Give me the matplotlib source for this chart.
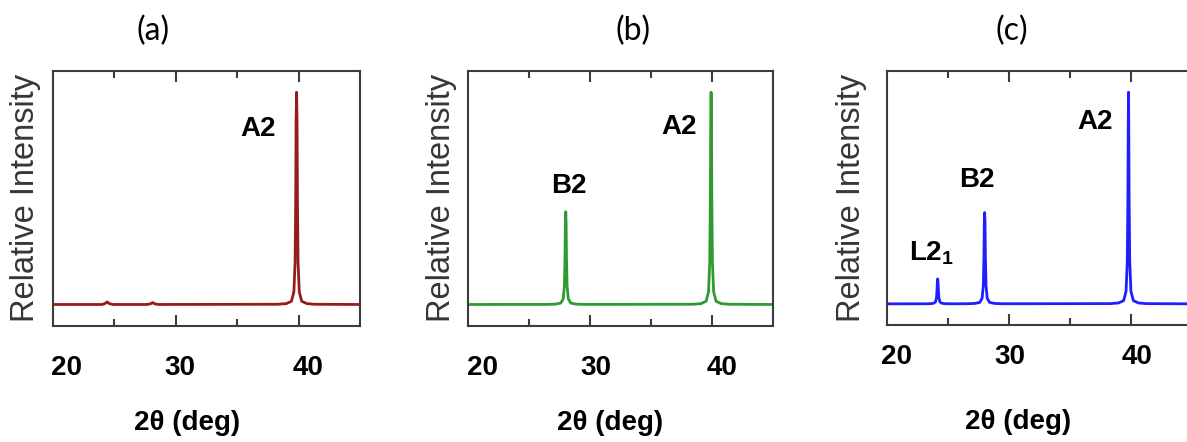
import matplotlib
matplotlib.use("Agg")
import matplotlib.pyplot as plt
from matplotlib.transforms import blended_transform_factory

plt.rcParams['mathtext.fontset'] = 'custom'
plt.rcParams['mathtext.bf'] = 'Liberation Sans:bold'
plt.rcParams['mathtext.rm'] = 'Liberation Sans'

# ---------------- data ----------------
panel_titles = ["(a)", "(b)", "(c)"]
x_label = "2θ (deg)"
y_label = "Relative Intensity"
tick_labels = ["20", "30", "40"]

# panel (a): A2 only (tiny bumps at ~24.4 and ~28.1)
two_theta_a = [20.0, 24.0, 24.25, 24.43, 24.6, 24.9,
               27.7, 27.95, 28.14, 28.3, 28.6,
               38.3, 39.0, 39.42, 39.62, 39.72, 39.77, 39.80, 39.84,
               39.88, 39.91, 39.96, 40.06, 40.26, 40.68, 41.3, 45.0]
intensity_a = [0.0, 0.0, 0.004, 0.012, 0.004, 0.0,
               0.0, 0.003, 0.009, 0.003, 0.0,
               0.001, 0.004, 0.015, 0.059, 0.2, 0.5, 0.86, 1.0,
               0.86, 0.5, 0.2, 0.059, 0.015, 0.004, 0.001, 0.0]

# panel (b): B2 + A2
two_theta_b = [20.0, 26.5, 27.2, 27.62, 27.82, 27.92, 27.97, 28.00, 28.03,
               28.06, 28.09, 28.14, 28.24, 28.44, 28.86, 29.5,
               38.4, 39.1, 39.52, 39.72, 39.82, 39.87, 39.90, 39.93,
               39.96, 39.99, 40.04, 40.14, 40.34, 40.76, 41.4, 45.0]
intensity_b = [0.0, 0.0004, 0.0017, 0.0066, 0.026, 0.087, 0.22, 0.38, 0.437,
               0.38, 0.22, 0.087, 0.026, 0.0066, 0.0017, 0.0004,
               0.001, 0.004, 0.015, 0.059, 0.2, 0.5, 0.86, 1.0,
               0.86, 0.5, 0.2, 0.059, 0.015, 0.004, 0.001, 0.0]

# panel (c): L2_1 + B2 + A2
two_theta_c = [20.0, 23.2, 23.6, 23.86, 24.0, 24.08, 24.12, 24.15, 24.18,
               24.21, 24.24, 24.28, 24.36, 24.5, 24.76, 25.2,
               26.5, 27.2, 27.62, 27.82, 27.92, 27.97, 28.00, 28.03,
               28.06, 28.09, 28.14, 28.24, 28.44, 28.86, 29.5,
               38.3, 39.0, 39.42, 39.62, 39.72, 39.77, 39.80, 39.82,
               39.84, 39.87, 39.92, 40.02, 40.22, 40.64, 41.3, 45.0]
intensity_c = [0.0, 0.0002, 0.0008, 0.003, 0.009, 0.028, 0.06, 0.1, 0.118,
               0.1, 0.06, 0.028, 0.009, 0.003, 0.0008, 0.0002,
               0.0004, 0.0017, 0.0066, 0.026, 0.087, 0.22, 0.38, 0.431,
               0.38, 0.22, 0.087, 0.026, 0.0066, 0.0017, 0.0004,
               0.001, 0.004, 0.015, 0.059, 0.2, 0.5, 0.86, 1.0,
               0.86, 0.5, 0.2, 0.059, 0.015, 0.004, 0.001, 0.0]

peak_labels_a = ["A2"]
peak_labels_b = ["B2", "A2"]
peak_labels_c = [r"$\mathbf{L2_1}$", "B2", "A2"]

# ---------------- layout / style ----------------
W, H = 1187, 442
fig = plt.figure(figsize=(W / 100, H / 100), dpi=100)

line_colors = ["#961c1c", "#2f9a2f", "#1e1eff"]
frame_color = "#3c3c3c"

def px_axes(left, top, right, bottom):
    return [left / W, (H - bottom) / H, (right - left) / W, (bottom - top) / H]

axes_px = [(52.7, 71, 360, 325.7), (467.7, 71, 773, 325.7), (886.7, 71, 1191.7, 325)]
tick_label_pos = [[21.16, 30.36, 40.77], [21.25, 30.49, 40.82], [20.82, 30.1, 40.5]]
tick_label_y = [-0.166, -0.166, -0.125]
xlabel_pos = [(0.437, -0.382), (0.466, -0.382), (0.4305, -0.381)]
ylabel_x = [-0.09, -0.085, -0.115]
title_x = [0.328, 0.541, 0.411]
annot_pos = [
    [(36.7, 0.829)],
    [(28.3, 0.56), (37.32, 0.836)],
    [(23.69, 0.239), (27.38, 0.586), (37.07, 0.861)],
]

series = [(two_theta_a, intensity_a, peak_labels_a),
          (two_theta_b, intensity_b, peak_labels_b),
          (two_theta_c, intensity_c, peak_labels_c)]

for i, (xs, ys, labels) in enumerate(series):
    ax = fig.add_axes(px_axes(*axes_px[i]))
    ax.plot(xs, ys, color=line_colors[i], lw=2.0, solid_joinstyle='round')
    ax.set_xlim(20, 45)
    ax.set_ylim(-0.1, 1.1)
    for sp in ax.spines.values():
        sp.set_color(frame_color)
        sp.set_linewidth(1.5)
    ax.set_xticks([30, 40])
    ax.set_xticks([25, 35], minor=True)
    ax.set_xticklabels([])
    ax.set_yticks([])
    ax.tick_params(axis='x', which='both', direction='in', top=True, bottom=True,
                   color=frame_color, width=1.5)
    ax.tick_params(axis='x', which='major', length=8)
    ax.tick_params(axis='x', which='minor', length=5)

    trans = blended_transform_factory(ax.transData, ax.transAxes)
    for lx, lab in zip(tick_label_pos[i], tick_labels):
        ax.text(lx, tick_label_y[i], lab, transform=trans, ha='center', va='center',
                fontsize=20, fontweight='bold', family='Liberation Sans', color='black',
                clip_on=False)

    ax.text(xlabel_pos[i][0], xlabel_pos[i][1], x_label, transform=ax.transAxes,
            ha='center', va='center', fontsize=20, fontweight='bold',
            family='Liberation Sans', color='black')
    ax.text(ylabel_x[i], 0.5, y_label, transform=ax.transAxes, rotation=90,
            ha='center', va='center', fontsize=23.5, family='Liberation Sans',
            color='#363636')
    ax.text(title_x[i], 1.157, panel_titles[i], transform=ax.transAxes,
            ha='center', va='center', fontsize=23, family='Lato', color='black')

    for (px, py), lab in zip(annot_pos[i], labels):
        ax.text(px, py, lab, ha='center', va='center', fontsize=20,
                fontweight='bold', family='Liberation Sans', color='black')

fig.savefig("out.png", dpi=100)
